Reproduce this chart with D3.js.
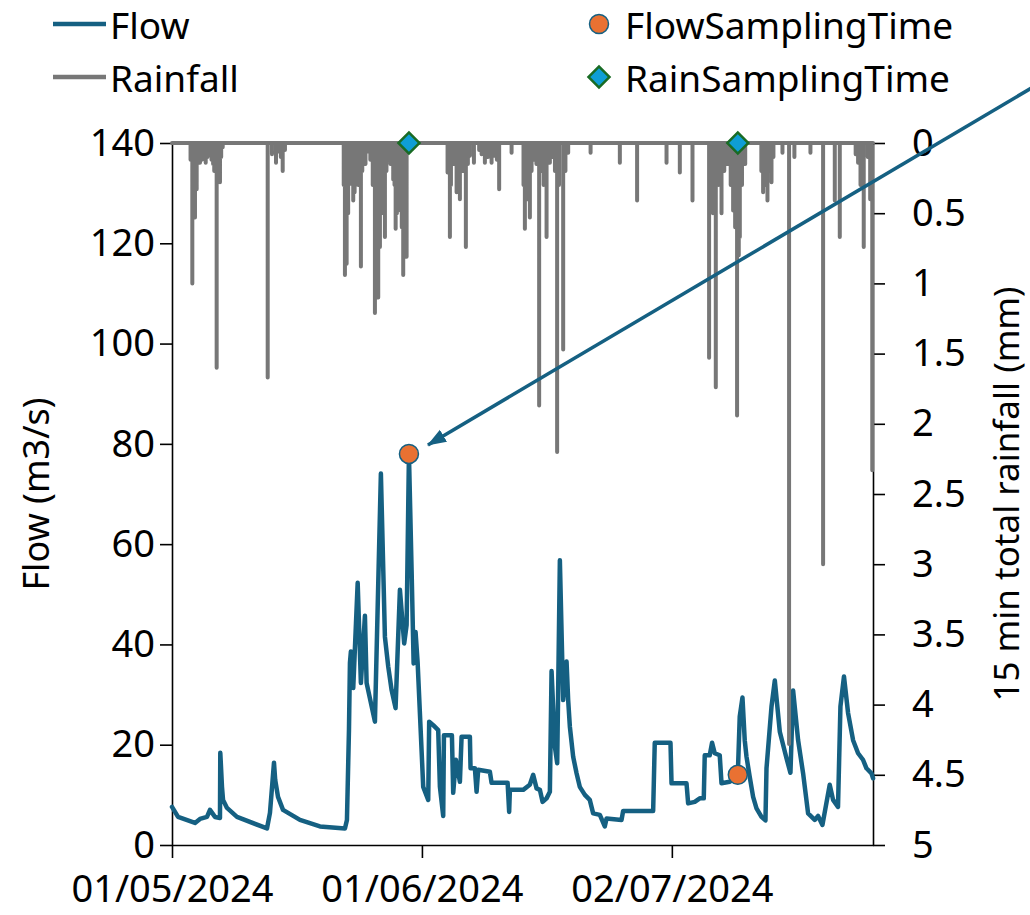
<!DOCTYPE html>
<html>
<head>
<meta charset="utf-8">
<script src="https://cdn.jsdelivr.net/npm/d3@7"></script>
<style>
  body { margin: 0; background: #fff; }
  text { font-family: "Noto Sans", "Open Sans", sans-serif; fill: #000; }
</style>
</head>
<body>
<div id="chart"></div>
<script>
// time is stored as days after 01/05/2024 00:00
const startDate = new Date(2024, 4, 1);
const endDay = 86.95;

const flowDays = [0, 0.75, 2.85, 3.47, 4.34, 4.71, 5.33, 5.95, 5.99, 6.2, 6.33, 6.82, 8.06, 11.78, 12.15, 12.65, 12.8, 13.15, 13.77, 15.87, 18.35,
  21.45, 21.7, 21.95, 22.07, 22.19, 22.48, 23.03, 23.43, 23.93, 24.14, 25.17, 25.91, 26.41, 26.82, 27.24, 27.73, 28.27, 28.8, 29.1,
  29.39, 29.72, 29.97, 30.21, 30.47, 31.16, 31.78, 31.9, 32.4, 33.02, 33.23, 33.64, 33.73, 34.72, 34.88, 35.21, 35.71, 35.92,
  36.95, 37.03, 37.57, 37.78, 37.98, 39.43, 39.64, 41.63, 41.82, 41.91, 43.56, 44.38, 44.8, 45.22, 45.63, 45.97, 46.46, 46.87,
  47.08, 47.49, 47.78, 48.11, 48.52, 48.94, 49.14, 49.35, 49.76, 50.18, 50.58, 51.21, 51.82, 52.24, 53.07, 53.68, 53.9, 55.76,
  55.96, 59.68, 59.88, 61.83, 61.96, 63.82, 64.02, 64.84, 65.46, 65.96, 66.08, 66.7, 66.99, 67.32, 67.94, 68.16, 69.18, 70.18,
  70.42, 70.76, 71.04, 71.26, 71.66, 72.08, 72.5, 73.12, 73.61, 73.74, 74.36, 74.77, 75.39, 76.22, 76.71, 77.04, 77.66, 78.28,
  78.9, 79.72, 80.14, 80.68, 81.58, 82.0, 82.61, 82.91, 83.35, 83.86, 84.48, 85.1, 85.71, 86.14, 86.76, 86.96];
const flowValues = [7.6, 5.6, 4.4, 5.2, 5.6, 7.0, 5.6, 5.4, 18.4, 11.6, 9.0, 7.4, 5.6, 3.3, 6.4, 16.4, 13.0, 9.6, 7.0, 5.0, 3.7,
  3.3, 5.0, 22.9, 36.3, 38.6, 31.3, 52.3, 32.3, 45.7, 32.3, 24.6, 74.1, 41.5, 35.6, 30.9, 27.3, 50.9, 40.2, 43.9,
  77.8, 54.8, 36.2, 42.5, 36.3, 11.6, 9.0, 24.6, 23.9, 22.9, 11.6, 5.8, 21.9, 21.9, 10.4, 17.0, 12.6, 21.6,
  21.6, 15.3, 15.3, 10.6, 15.0, 14.6, 12.4, 12.4, 6.6, 11.0, 11.0, 12.0, 14.0, 11.3, 11.0, 8.6, 9.3, 10.6,
  34.7, 19.6, 16.3, 56.8, 28.9, 36.6, 28.9, 23.6, 17.6, 14.3, 11.6, 10.0, 9.0, 6.3, 6.0, 3.7, 5.3, 5.0,
  6.8, 6.8, 20.4, 20.4, 12.3, 12.3, 8.3, 8.6, 9.3, 9.3, 17.9, 17.9, 20.4, 18.3, 17.9, 12.3, 12.6, 14.0,
  25.6, 29.4, 20.9, 17.6, 13.6, 9.6, 7.3, 5.6, 4.9, 15.3, 27.6, 32.8, 22.6, 17.3, 14.4, 30.8, 20.9, 14.3,
  6.3, 5.0, 5.8, 4.0, 12.0, 9.0, 7.6, 27.6, 33.6, 26.3, 20.9, 18.3, 17.0, 15.3, 14.3, 13.3];

// the tall rain spikes
const rainDays = [2.52, 2.85, 3.06, 3.47, 4.18, 4.71, 5.24, 5.54, 5.95, 6.29, 11.87, 12.9, 13.73, 14.01,
  21.45, 21.66, 22.07, 22.48, 22.9, 23.43, 23.81, 24.34, 25.17, 25.58, 25.79, 26.41, 26.82, 27.44, 27.74, 28.06, 28.68, 29.1,
  34.18, 34.47, 35.3, 35.71, 36.45, 36.95, 37.45, 38.1, 38.81, 39.64, 40.05, 40.58, 42.12, 43.77, 44.39, 44.8, 45.54,
  46.46, 46.87, 47.77, 48.52, 49.14, 51.92, 55.55, 57.69, 61.34, 62.99, 64.56, 66.62, 67.45, 68.16, 69.6, 70.09, 70.43,
  73.32, 73.86, 74.36, 75.72, 76.54, 79.19, 80.76, 82.21, 82.83, 85.1, 85.8, 86.86];
const rainValues = [1.0, 0.53, 0.33, 0.14, 0.14, 0.08, 0.2, 1.6, 0.28, 0.03, 1.67, 0.14, 0.2, 0.05,
  0.94, 0.86, 0.29, 0.41, 0.19, 0.88, 0.1, 0.06, 1.21, 1.1, 0.74, 0.67, 0.12, 0.26, 0.61, 0.48, 0.94, 0.81,
  0.21, 0.67, 0.35, 0.4, 0.74, 0.09, 0.14, 0.05, 0.14, 0.14, 0.09, 0.33, 0.07, 0.61, 0.53, 0.12, 1.87,
  0.67, 0.14, 2.2, 1.47, 0.07, 0.07, 0.14, 0.41, 0.14, 0.21, 0.41, 1.53, 1.74, 0.5, 0.48, 1.94, 0.67,
  0.35, 0.41, 0.28, 0.07, 4.28, 0.07, 3.0, 0.41, 0.67, 0.14, 0.74, 2.33];
// the light readings inside each rainy spell
const rainSmallDays = [2.3, 2.7, 3.3, 3.7, 3.9, 4.4, 4.9, 5.1, 5.7, 6.1, 12.4, 13.3, 13.5,
  21.3, 21.85, 22.25, 22.65, 23.1, 23.6, 24.0, 24.6, 24.9, 25.35, 26.0, 26.2, 26.6, 27.1, 27.6, 27.9, 28.3, 28.5, 28.85,
  34.6, 35.0, 35.5, 36.1, 36.7, 38.4, 39.2, 40.3, 43.6, 44.1, 44.6, 45.2, 45.8, 46.1, 47.2, 47.5, 48.0, 48.8,
  66.8, 67.1, 67.8, 68.5, 68.9, 69.3, 69.85, 70.3, 70.7, 71.1, 73.1, 73.6, 74.1, 74.6, 77.2, 84.8, 85.4, 86.3, 86.6];
const rainSmallValues = [0.12, 0.3, 0.1, 0.12, 0.06, 0.1, 0.12, 0.15, 0.12, 0.1, 0.08, 0.06, 0.1,
  0.3, 0.5, 0.25, 0.35, 0.3, 0.2, 0.15, 0.12, 0.3, 0.4, 0.5, 0.35, 0.2, 0.15, 0.3, 0.5, 0.3, 0.6, 0.5,
  0.3, 0.15, 0.3, 0.2, 0.15, 0.08, 0.1, 0.12, 0.3, 0.4, 0.2, 0.15, 0.2, 0.3, 0.1, 0.2, 0.3, 0.2,
  0.3, 0.5, 0.3, 0.2, 0.15, 0.3, 0.6, 0.8, 0.3, 0.15, 0.2, 0.3, 0.2, 0.1, 0.1, 0.08, 0.3, 0.1, 0.4];

const flowSampleDays = [29.39, 70.18];
const flowSampleValues = [78, 14];
const rainSampleDays = [29.39, 70.18];
const rainSampleValues = [0, 0];

const xTickDates = ["2024-05-01", "2024-06-01", "2024-07-02"];
const flowTicks = [0, 20, 40, 60, 80, 100, 120, 140];
const rainTicks = [0, 0.5, 1, 1.5, 2, 2.5, 3, 3.5, 4, 4.5, 5];

const width = 1030, height = 915;
const margin = { top: 143, right: 157, bottom: 70, left: 172 };
const flowColor = "#156082", rainColor = "#777777";

const toDate = d => new Date(startDate.getTime() + d * 864e5);

const svg = d3.select("#chart").append("svg")
  .attr("width", width).attr("height", height);

const x = d3.scaleTime()
  .domain([startDate, toDate(endDay)])
  .range([margin.left, width - margin.right]);
const yFlow = d3.scaleLinear().domain([0, 140]).range([height - margin.bottom, margin.top]);
const yRain = d3.scaleLinear().domain([0, 5]).range([margin.top, height - margin.bottom]);

// axes
const styleAxis = g => {
  g.select(".domain").attr("stroke", "#000").attr("stroke-width", 1.6);
  g.selectAll(".tick line").attr("stroke", "#000").attr("stroke-width", 1.6);
  g.selectAll(".tick text").attr("font-size", 38).attr("fill", "#000");
};

svg.append("g")
  .attr("transform", `translate(${margin.left},0)`)
  .call(d3.axisLeft(yFlow).tickValues(flowTicks).tickSize(12).tickSizeOuter(0).tickPadding(5))
  .call(styleAxis);

svg.append("g")
  .attr("transform", `translate(${width - margin.right},0)`)
  .call(d3.axisRight(yRain).tickValues(rainTicks).tickSize(12).tickSizeOuter(0).tickPadding(27).tickFormat(d => String(d)))
  .call(styleAxis);

svg.append("g")
  .attr("transform", `translate(0,${height - margin.bottom})`)
  .call(d3.axisBottom(x).tickValues(xTickDates.map(s => d3.timeParse("%Y-%m-%d")(s)))
    .tickSize(13).tickSizeOuter(0).tickPadding(17).tickFormat(d3.timeFormat("%d/%m/%Y")))
  .call(styleAxis);

// axis titles
svg.append("text")
  .attr("transform", `translate(35,${(margin.top + height - margin.bottom) / 2}) rotate(-90)`)
  .attr("text-anchor", "middle").attr("dominant-baseline", "central")
  .attr("font-size", 36).text("Flow (m3/s)");
svg.append("text")
  .attr("transform", `translate(1005,${(margin.top + height - margin.bottom) / 2}) rotate(-90)`)
  .attr("text-anchor", "middle").attr("dominant-baseline", "central")
  .attr("font-size", 35).text("15 min total rainfall (mm)");

// flow line
const flowPts = flowDays.map((d, i) => [d, flowValues[i]]);
svg.append("path")
  .datum(flowPts)
  .attr("fill", "none").attr("stroke", flowColor).attr("stroke-width", 4.5)
  .attr("stroke-linejoin", "round").attr("stroke-linecap", "round")
  .attr("d", d3.line().x(p => x(toDate(p[0]))).y(p => yFlow(p[1])));

// rainfall line: back to zero between the readings
const rainAll = rainDays.map((d, i) => [d, rainValues[i]])
  .concat(rainSmallDays.map((d, i) => [d, rainSmallValues[i]]))
  .sort((a, b) => a[0] - b[0]);
const rainPts = [[0, 0]];
rainAll.forEach(([d, v]) => { rainPts.push([d, 0], [d, v], [d, 0]); });
rainPts.push([endDay, 0]);
svg.append("path")
  .datum(rainPts)
  .attr("fill", "none").attr("stroke", rainColor).attr("stroke-width", 4)
  .attr("stroke-linejoin", "round").attr("stroke-linecap", "round")
  .attr("d", d3.line().x(p => x(toDate(p[0]))).y(p => yRain(p[1])));

// sampling markers
svg.selectAll(".flow-sample")
  .data(flowSampleDays)
  .enter().append("circle")
  .attr("class", "flow-sample")
  .attr("cx", d => x(toDate(d)))
  .attr("cy", (d, i) => yFlow(flowSampleValues[i]))
  .attr("r", 9.5)
  .attr("fill", "#E97132").attr("stroke", flowColor).attr("stroke-width", 1.5);

const diamond = d3.symbol().type(d3.symbolSquare).size(220);
svg.selectAll(".rain-sample")
  .data(rainSampleDays)
  .enter().append("path")
  .attr("class", "rain-sample")
  .attr("d", diamond)
  .attr("transform", (d, i) => `translate(${x(toDate(d))},${yRain(rainSampleValues[i])}) rotate(45)`)
  .attr("fill", "#0F9ED5").attr("stroke", "#196B24").attr("stroke-width", 2.5);

// arrow annotation pointing at the peak sample
svg.append("defs").append("marker")
  .attr("id", "head")
  .attr("markerUnits", "userSpaceOnUse")
  .attr("markerWidth", 20).attr("markerHeight", 16)
  .attr("refX", 18).attr("refY", 8)
  .attr("orient", "auto")
  .append("path").attr("d", "M0,1 L19,8 L0,15 Z").attr("fill", flowColor);

const tipX = x(toDate(flowSampleDays[0])) + 19, tipY = yFlow(flowSampleValues[0]) - 9;
svg.append("line")
  .attr("x1", 1045).attr("y1", 80)
  .attr("x2", tipX).attr("y2", tipY)
  .attr("stroke", flowColor).attr("stroke-width", 3.5)
  .attr("marker-end", "url(#head)");

// legend
const legend = svg.append("g");
[["Flow", flowColor, 24], ["Rainfall", rainColor, 77]].forEach(([name, col, yy]) => {
  legend.append("line").attr("x1", 53).attr("x2", 106).attr("y1", yy).attr("y2", yy)
    .attr("stroke", col).attr("stroke-width", 4.5);
  legend.append("text").attr("x", 110).attr("y", yy).attr("dominant-baseline", "central")
    .attr("font-size", 37).text(name);
});
legend.append("circle").attr("cx", 599).attr("cy", 24).attr("r", 9.5)
  .attr("fill", "#E97132").attr("stroke", flowColor).attr("stroke-width", 1.5);
legend.append("text").attr("x", 625).attr("y", 24).attr("dominant-baseline", "central")
  .attr("font-size", 37).text("FlowSamplingTime");
legend.append("path").attr("d", diamond)
  .attr("transform", "translate(599,77) rotate(45)")
  .attr("fill", "#0F9ED5").attr("stroke", "#196B24").attr("stroke-width", 2.5);
legend.append("text").attr("x", 625).attr("y", 77).attr("dominant-baseline", "central")
  .attr("font-size", 37).text("RainSamplingTime");
</script>
</body>
</html>
